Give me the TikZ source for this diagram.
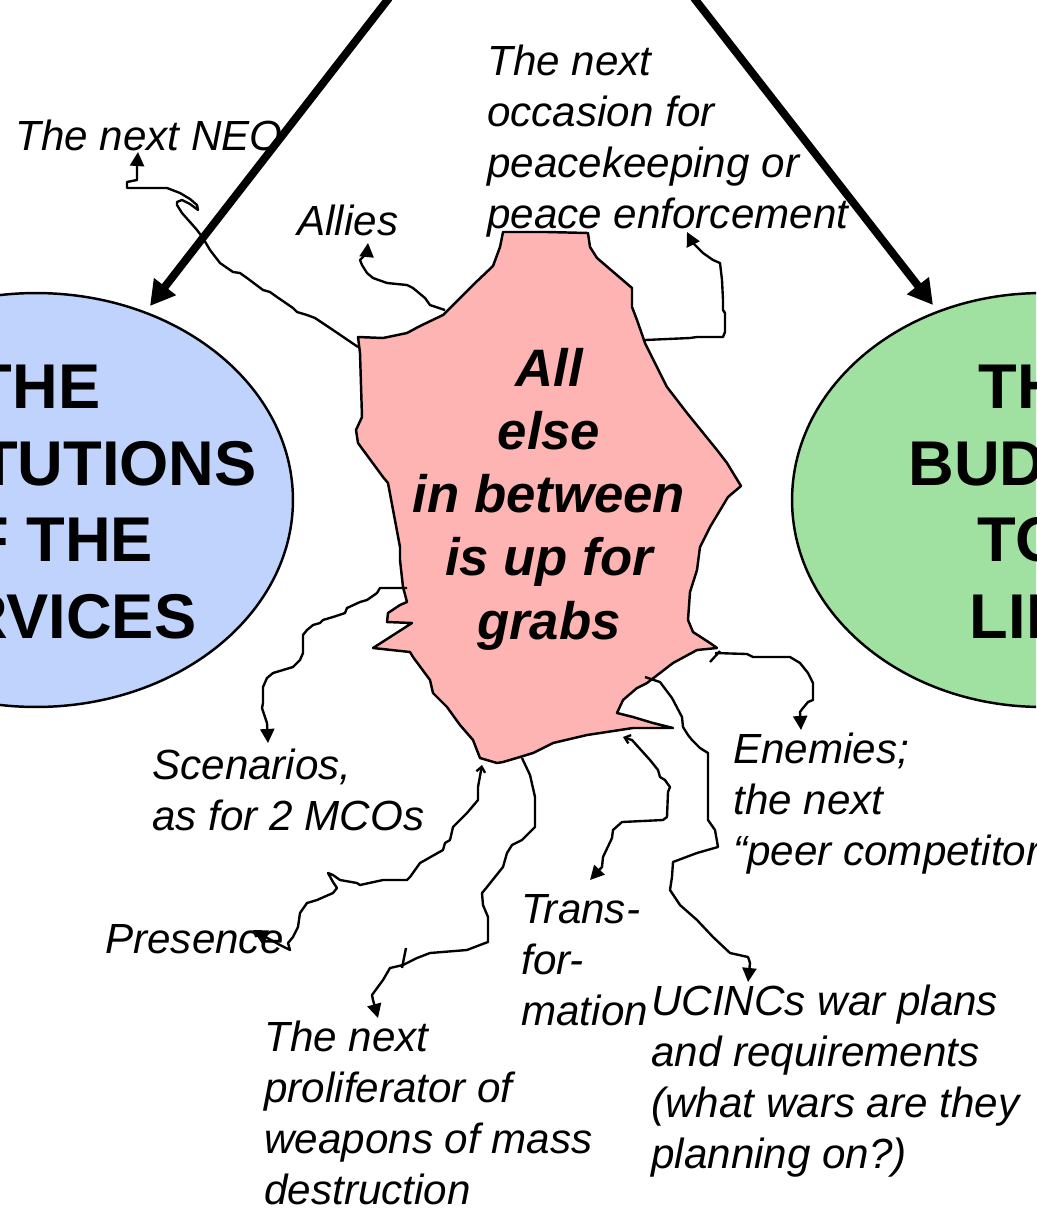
\documentclass[tikz,border=0pt]{standalone}
\usepackage{fontspec}
\setmainfont{Liberation Sans}
\usetikzlibrary{arrows.meta,shapes.geometric}
\definecolor{blobpink}{RGB}{255,180,180}
\definecolor{instblue}{RGB}{191,211,252}
\definecolor{budgetgreen}{RGB}{160,224,160}
\begin{document}
\begin{tikzpicture}[x=0.02cm,y=-0.02cm,
  lbl/.style={font=\fontsize{24}{29}\selectfont\itshape, align=left, anchor=base west, inner sep=0pt},
  bigtxt/.style={font=\fontsize{36}{43.5}\selectfont\bfseries, align=center, anchor=base, inner sep=0pt},
  blobtxt/.style={font=\fontsize{30}{36}\selectfont\bfseries\itshape, align=center, anchor=base, inner sep=0pt},
  conn/.style={line width=1.35pt, line join=round, -{Triangle[length=8pt,width=8pt]}},
  plainline/.style={line width=1.35pt, line join=round},
  bigarrow/.style={line width=4.5pt, -{Triangle[length=14pt,width=15pt]}},
  oval/.style={ellipse, draw, line width=1.4pt, minimum width=10.28cm, minimum height=8.28cm, inner sep=0pt}
]
\useasboundingbox (0,0) rectangle (1036,1215);
\clip (0,0) rectangle (1036,1215);

% the two ovals
\node[oval, fill=instblue] (inst) at (36,500) {};
\node[oval, fill=budgetgreen, minimum width=10.0cm] (budget) at (1042,500) {};
% multi-line nodes are anchored on the baseline of their last line
\node[bigtxt] (insttxt) at (37,638) {THE\\INSTITUTIONS\\OF THE\\SERVICES};
\node[bigtxt] (budgettxt) at (1042,638) {THE\\BUDGET\\TOP\\LINE};

% the blob
\draw[fill=blobpink, line width=1.4pt, line join=round]
 (503,232) -- (547,232) -- (588,233) -- (590,247) -- (597,258) -- (632,288) -- (632,307)
 -- (637,320) -- (645,343) -- (667,387) -- (687,413) -- (717,450) -- (727,463) -- (741,486)
 -- (728,497) -- (710,527) -- (700,547) -- (697,570) -- (690,592) -- (688,620) -- (693,632)
 -- (710,643) -- (717,648) -- (697,650) -- (673,663) -- (647,683) -- (637,688) -- (623,700)
 -- (617,713) -- (633,717) -- (653,723) -- (673,728) -- (633,728) -- (587,735) -- (553,743)
 -- (533,753) -- (520,757) -- (503,762) -- (497,763) -- (480,758) -- (473,740) -- (460,725)
 -- (447,707) -- (433,693) -- (430,680) -- (413,657) -- (410,652) -- (373,648) -- (412,623)
 -- (387,622) -- (388,613) -- (400,605) -- (407,602) -- (403,587) -- (400,560) -- (400,547)
 -- (388,483) -- (383,477) -- (358,443) -- (356,430) -- (362,417) -- (360,353) -- (358,337)
 -- (383,338) -- (407,333) -- (420,326) -- (443,315) -- (473,285) -- (493,266) -- (500,247) -- cycle;
\node[blobtxt] (blobtxt) at (549,639) {All\\else\\in between\\is up for\\grabs};

% labels
\node[lbl] (neo) at (15,150) {The next NEO};
\node[lbl] (allies) at (297,235) {Allies};
\node[lbl] (peace) at (487,228) {The next\\occasion for\\peacekeeping or\\peace enforcement};
\node[lbl] (scen) at (152,830) {Scenarios,\\as for 2 MCOs};
\node[lbl] (pres) at (105,953) {Presence};
\node[lbl] (prolif) at (264,1204) {The next\\proliferator of\\weapons of mass\\destruction};
\node[lbl] (trans) at (521,1025) {Trans-\\for-\\mation};
\node[lbl] (ucinc) at (651,1168) {UCINCs war plans\\and requirements\\(what wars are they\\planning on?)};
\node[lbl] (enem) at (733,865) {Enemies;\\the next\\“peer competitor”};

% connector end points
\coordinate (neoS) at (358,347);   \coordinate (neoE) at (138,152);
\coordinate (allS) at (445,310);   \coordinate (allE) at (368,243);
\coordinate (peaS) at (645,340);   \coordinate (peaE) at (687,232);
\coordinate (scnS) at (407,588);   \coordinate (scnE) at (268,743);
\coordinate (preS) at (482,765);   \coordinate (preE) at (253,930);
\coordinate (proS) at (522,758);   \coordinate (proE) at (378,1018);
\coordinate (traS) at (623,737);   \coordinate (traE) at (590,880);
\coordinate (ucnS) at (645,677);   \coordinate (ucnE) at (748,982);
\coordinate (enmS) at (715,653);   \coordinate (enmE) at (801,730);

\draw[conn] (neoS) -- (333,330) -- (330,328) -- (315,318) -- (307,315) -- (297,312) -- (293,308)
 -- (277,297) -- (270,292) -- (263,290) -- (247,278) -- (240,273) -- (233,272) -- (220,263)
 -- (210,250) -- (203,238) -- (197,230) -- (190,222) -- (182,213) -- (177,205) -- (177,202)
 -- (182,200) -- (190,204) -- (198,210) -- (197,205) -- (190,199) -- (180,193) -- (167,188)
 -- (127,188) -- (127,182) -- (137,180) -- (137,167) -- (neoE);

\draw[conn] (allS) -- (430,305) -- (425,298) -- (413,288) -- (407,285) -- (387,283) -- (373,278)
 -- (367,273) -- (362,265) -- (360,260) -- (367,253) -- (allE);

\draw[conn] (peaS) -- (690,338) -- (697,337) -- (723,337) -- (725,332) -- (725,313) -- (723,310)
 -- (723,300) -- (722,280) -- (720,263) -- (713,260) -- (703,253) -- (692,242) -- (peaE);

\draw[conn] (scnS) -- (380,588) -- (377,593) -- (367,600) -- (360,602) -- (347,608) -- (345,613)
 -- (333,617) -- (323,620) -- (320,623) -- (313,625) -- (307,630) -- (303,635) -- (303,653)
 -- (300,660) -- (293,667) -- (283,670) -- (273,673) -- (267,678) -- (263,687) -- (263,703)
 -- (262,708) -- (265,717) -- (267,723) -- (scnE);

\draw[conn, {Straight Barb[length=3pt,width=5pt]}-{Triangle[length=8pt,width=8pt]}]
 (preS) -- (478,787) -- (478,800) -- (467,813) -- (460,820) -- (453,827) -- (450,840)
 -- (445,843) -- (443,850) -- (420,863) -- (410,877) -- (407,880) -- (383,880) -- (360,885)
 -- (357,883) -- (340,880) -- (333,875) -- (328,873) -- (333,882) -- (337,888) -- (333,893)
 -- (317,900) -- (307,903) -- (300,913) -- (298,927) -- (293,937) -- (288,943) -- (290,950)
 -- (280,945) -- (preE);

\draw[conn] (proS) -- (530,775) -- (535,797) -- (535,827) -- (522,840) -- (512,845) -- (507,853)
 -- (503,867) -- (487,887) -- (482,893) -- (483,905) -- (488,917) -- (488,942) -- (480,945)
 -- (467,950) -- (430,953) -- (417,958) -- (403,965) -- (390,968) -- (383,980) -- (372,995)
 -- (373,1000) -- (proE);
\coordinate (tickA) at (406,948); \coordinate (tickB) at (402,968);
\draw[plainline] (tickA) -- (tickB);

\draw[conn, {Straight Barb[length=3pt,width=5pt]}-{Triangle[length=8pt,width=8pt]}]
 (traS) -- (632,740) -- (650,760) -- (658,770) -- (660,777) -- (665,780) -- (667,783)
 -- (670,787) -- (668,792) -- (667,817) -- (663,820) -- (622,822) -- (613,830) -- (612,838)
 -- (603,857) -- (602,867) -- (traE);

\draw[conn] (ucnS) -- (660,682) -- (672,698) -- (682,717) -- (683,727) -- (688,735) -- (692,740)
 -- (700,748) -- (708,753) -- (708,820) -- (715,830) -- (718,847) -- (697,853) -- (673,862)
 -- (672,877) -- (670,890) -- (680,905) -- (697,920) -- (713,937) -- (730,953) -- (748,957)
 -- (750,963) -- (ucnE);

\draw[conn] (enmS) -- (747,654) -- (753,657) -- (790,657) -- (800,663) -- (808,673) -- (813,683)
 -- (813,700) -- (808,702) -- (803,708) -- (800,712) -- (enmE);
\coordinate (tickC) at (710,662); \coordinate (tickD) at (720,651);
\draw[plainline] (tickC) -- (tickD);

% thick arrows from the top
\coordinate (topL) at (389,-2); \coordinate (tipL) at (150,306);
\coordinate (topR) at (694,-2); \coordinate (tipR) at (933,305);
\draw[bigarrow] (topL) -- (tipL);
\draw[bigarrow] (topR) -- (tipR);
\end{tikzpicture}
\end{document}
